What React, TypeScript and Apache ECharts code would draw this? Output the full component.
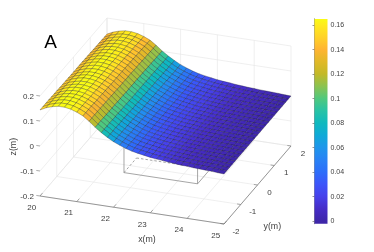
import React, { useEffect, useRef } from "react";
import * as echarts from "echarts";

const xCoords = [20,20.167,20.333,20.5,20.667,20.833,21,21.167,21.333,21.5,21.667,21.833,22,22.167,22.333,22.5,22.667,22.833,23,23.167,23.333,23.5,23.667,23.833,24,24.167,24.333,24.5,24.667,24.833,25];
const zProfile = [0.14,0.152,0.16,0.165,0.165,0.161,0.153,0.142,0.125,0.105,0.088,0.073,0.06,0.05,0.041,0.034,0.029,0.025,0.021,0.018,0.016,0.013,0.011,0.009,0.008,0.006,0.005,0.004,0.003,0.001,0];
const yCoords = [2,1.833,1.667,1.5,1.333,1.167,1,0.833,0.667,0.5,0.333,0.167,0,-0.167,-0.333,-0.5,-0.667,-0.833,-1,-1.167,-1.333,-1.5,-1.667,-1.833,-2];
const yGain = [0.97,0.97,0.975,0.98,0.98,0.985,0.99,0.99,0.995,1,1,1,1,1,1.005,1.01,1.01,1.015,1.02,1.02,1.025,1.03,1.03,1.03,1.03];
const xTicks = [20,21,22,23,24,25];
const yTicks = [-2,-1,0,1,2];
const zTicks = [-0.2,-0.1,0,0.1,0.2];
const colorTicks = [0,0.02,0.04,0.06,0.08,0.1,0.12,0.14,0.16];
const boxX = [22,24];
const boxY = [-1.38,-0.63];
const boxZ = [-0.11,0];
const cMin = -0.0024, cMax = 0.1649;
const stopValues = [-0.0024,0,0.01,0.02,0.03,0.04,0.05,0.06,0.07,0.08,0.09,0.1,0.11,0.12,0.13,0.14,0.15,0.16,0.1649];
const stopColors = ["#3e26a8","#3e26aa","#462dc8","#4641eb","#3c55fa","#2d6efa","#2882f5","#1e96eb","#0faad7","#0fb9be","#28c3a5","#50c87d","#8cc350","#c3b928","#e1b928","#ffb432","#ffd228","#ffeb1e","#f9fb15"];
const xLabel = "x(m)", yLabel = "y(m)", zLabel = "z(m)", panelLabel = "A";

const FONT = "Liberation Sans";
const TXT = "#404040";

function proj(x: number, y: number, z: number) {
  return [40 + 36.8 * (x - 20) + 16.75 * (y + 2), 196 + 5.6 * (x - 20) - 19.5 * (y + 2) - 250 * (z + 0.2)];
}
function hex(c: string) { return [1, 3, 5].map((i) => parseInt(c.slice(i, i + 2), 16)); }
function colorOf(z: number) {
  let i = 0;
  while (i < stopValues.length - 2 && z > stopValues[i + 1]) i++;
  const f = Math.max(0, Math.min(1, (z - stopValues[i]) / (stopValues[i + 1] - stopValues[i])));
  const a = hex(stopColors[i]), b = hex(stopColors[i + 1]);
  return `rgb(${a.map((v, k) => Math.round(v + (b[k] - v) * f)).join(",")})`;
}

type L = number[];
const gridLines: L[] = [];
xTicks.forEach((x) => {
  gridLines.push([x, -2, -0.2, x, 2, -0.2]);
  gridLines.push([x, 2, -0.2, x, 2, 0.2]);
});
yTicks.forEach((y) => {
  gridLines.push([20, y, -0.2, 25, y, -0.2]);
  if (y !== -2) gridLines.push([20, y, -0.2, 20, y, 0.2]);
});
zTicks.forEach((z) => {
  gridLines.push([20, -2, z, 20, 2, z]);
  gridLines.push([20, 2, z, 25, 2, z]);
});
const [bx0, bx1] = boxX, [by0, by1] = boxY, [bz0, bz1] = boxZ;
const boxSolid: L[] = [
  [bx0, by0, bz0, bx1, by0, bz0],
  [bx0, by0, bz0, bx0, by0, bz1],
  [bx1, by0, bz0, bx1, by0, bz1],
  [bx1, by0, bz0, bx1, by1, bz0],
];
const boxDashed: L[] = [
  [bx0, by0, bz0, bx0, by1, bz0],
  [bx0, by1, bz0, bx1, by1, bz0],
];
const axisLines: L[] = [
  [20, -2, -0.2, 25, -2, -0.2],
  [25, -2, -0.2, 25, 2, -0.2],
];
const cells: number[][] = [];
for (let j = 0; j < yCoords.length - 1; j++) {
  for (let i = 0; i < xCoords.length - 1; i++) {
    cells.push([xCoords[i], yCoords[j], xCoords[i + 1], yCoords[j + 1],
      zProfile[i] * yGain[j], zProfile[i + 1] * yGain[j], zProfile[i + 1] * yGain[j + 1], zProfile[i] * yGain[j + 1]]);
  }
}

export default function App() {
  const ref = useRef<HTMLDivElement>(null);
  useEffect(() => {
    const chart = echarts.init(ref.current!, undefined, { renderer: "svg" });
    const lineSeries = (data: L[], stroke: string, width: number, dash?: number[]) => ({
      type: "custom", xAxisIndex: 0, yAxisIndex: 0, silent: true, clip: false, data,
      renderItem: (_: any, api: any) => {
        const a = api.coord(proj(api.value(0), api.value(1), api.value(2)));
        const b = api.coord(proj(api.value(3), api.value(4), api.value(5)));
        return { type: "line", shape: { x1: a[0], y1: a[1], x2: b[0], y2: b[1] }, style: { stroke, lineWidth: width, lineDash: dash, fill: "none" } };
      },
    });
    const textSeries = (data: any[], place: (v: any) => { p: number[]; text: string; align?: string; size?: number; rot?: number; fill?: string }) => ({
      type: "custom", xAxisIndex: 0, yAxisIndex: 0, silent: true, clip: false,
      data: data.map((_, i) => [i]),
      renderItem: (_: any, api: any) => {
        const o = place(data[api.value(0)]);
        const c = api.coord(o.p);
        return {
          type: "text", x: c[0], y: c[1], rotation: o.rot || 0,
          style: { text: o.text, x: 0, y: 0, align: o.align || "center", verticalAlign: "middle", fill: o.fill || TXT, font: `${o.size || 8}px "${FONT}"` },
        };
      },
    });
    const ticksX = xTicks.map((x) => [x, -2, -0.2, x, -1.85, -0.2]);
    const ticksY = yTicks.map((y) => [25, y, -0.2, 24.9, y, -0.2]);
    const ticksZ: L[] = zTicks.map((z) => [20, -2, z, 19.9, -2, z]);

    chart.setOption({
      animation: false,
      grid: [
        { left: 0, top: 0, width: 374, height: 252 },
        { left: 314.5, top: 19, width: 13, height: 204.7 },
      ],
      xAxis: [
        { type: "value", gridIndex: 0, min: 0, max: 374, show: false },
        { type: "value", gridIndex: 1, min: 0, max: 1, show: false },
      ],
      yAxis: [
        { type: "value", gridIndex: 0, min: 0, max: 252, inverse: true, show: false },
        {
          type: "value", gridIndex: 1, min: cMin, max: cMax, position: "right",
          axisLine: { show: true, lineStyle: { color: "#8c8c8c", width: 0.8 } },
          axisTick: { show: true, inside: true, length: 2, lineStyle: { color: "#555", width: 0.6 }, customValues: colorTicks },
          axisLabel: { show: true, margin: 3, color: TXT, fontSize: 7, fontFamily: FONT, customValues: colorTicks, formatter: (v: number) => String(v) },
          splitLine: { show: false },
        },
        {
          type: "value", gridIndex: 1, min: cMin, max: cMax, position: "left",
          axisLine: { show: true, lineStyle: { color: "#8c8c8c", width: 0.8 } },
          axisTick: { show: false }, axisLabel: { show: false }, splitLine: { show: false },
        },
      ],
      series: [
        lineSeries(gridLines, "#e4e4e4", 0.6),
        lineSeries(boxSolid, "#808080", 0.7),
        lineSeries(boxDashed, "#808080", 0.7, [2.5, 2]),
        {
          type: "custom", xAxisIndex: 0, yAxisIndex: 0, silent: true, clip: false, data: cells,
          renderItem: (_: any, api: any) => {
            const x0 = api.value(0), y0 = api.value(1), x1 = api.value(2), y1 = api.value(3);
            const z = [api.value(4), api.value(5), api.value(6), api.value(7)];
            const corners = [[x0, y0], [x1, y0], [x1, y1], [x0, y1]];
            const pts = corners.map((p, k) => api.coord(proj(p[0], p[1], z[k])));
            return { type: "polygon", shape: { points: pts }, style: { fill: colorOf((z[0] + z[1] + z[2] + z[3]) / 4), stroke: "rgba(10,10,20,0.6)", lineWidth: 0.45 } };
          },
        },
        lineSeries(axisLines, "#707070", 0.7),
        lineSeries(ticksX, "#707070", 0.6),
        lineSeries(ticksY, "#707070", 0.6),
        lineSeries(ticksZ, "#707070", 0.6),
        textSeries(xTicks, (x) => {
          const p = proj(x, -2, -0.2);
          return { p: [p[0] - 8.2, p[1] + 11.3], text: String(x) };
        }),
        textSeries(yTicks, (y) => {
          const p = proj(25, y, -0.2);
          return { p: [p[0] + 12, p[1] + 7.3], text: String(y) };
        }),
        textSeries(zTicks, (z) => {
          const p = proj(20, -2, z);
          return { p: [34, p[1]], text: String(z), align: "right" };
        }),
        textSeries([xLabel], (t) => ({ p: [147, 238.7], text: t, size: 8.8 })),
        textSeries([yLabel], (t) => ({ p: [272.3, 226], text: t, size: 8.8 })),
        textSeries([zLabel], (t) => ({ p: [12.7, 146.7], text: t, size: 8.8, rot: Math.PI / 2 })),
        textSeries([panelLabel], (t) => ({ p: [50.5, 41.5], text: t, size: 19, fill: "#000" })),
        {
          type: "custom", xAxisIndex: 1, yAxisIndex: 1, silent: true, clip: false, data: [[0, cMin]],
          renderItem: (_: any, api: any) => {
            const a = api.coord([0, cMax]);
            const b = api.coord([1, cMin]);
            return {
              type: "rect", shape: { x: a[0], y: a[1], width: b[0] - a[0], height: b[1] - a[1] },
              style: {
                fill: new echarts.graphic.LinearGradient(0, 1, 0, 0, stopColors.map((color, i) => ({ offset: (stopValues[i] - cMin) / (cMax - cMin), color }))),
              },
            };
          },
        },
      ],
    });
    return () => chart.dispose();
  }, []);
  return <div ref={ref} style={{ position: "fixed", left: 0, top: 0, width: 374, height: 252, filter: "blur(0.35px)" }} />;
}
